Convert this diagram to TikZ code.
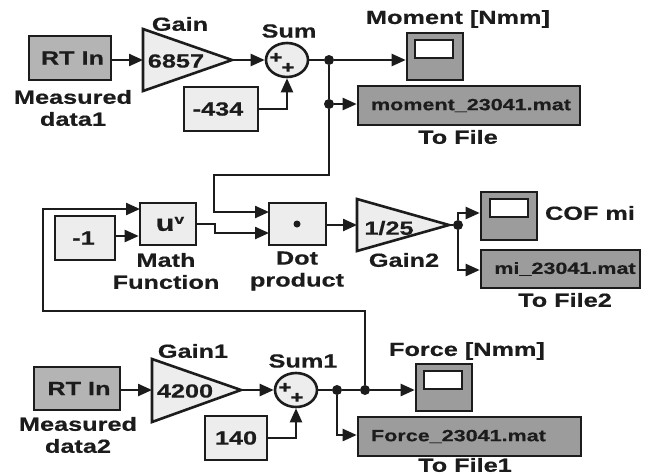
\documentclass[tikz,border=0pt]{standalone}
\usepackage{fontspec}
\setmainfont{Liberation Sans}[FakeStretch=1.33,BoldFeatures={FakeBold=0.5}]
\usetikzlibrary{arrows.meta,shapes.geometric}
\definecolor{rtgray}{HTML}{B4B4B4}
\definecolor{filegray}{HTML}{9C9C9C}
\definecolor{light}{HTML}{EDEDED}
\definecolor{ink}{HTML}{1C1C1C}
\tikzset{
  x=1pt,y=-1pt,
  every node/.style={font=\fontsize{19}{22}\selectfont\bfseries,text=ink},
  blk/.style={draw=ink,line width=2.6pt,inner sep=0pt},
  scr/.style={draw=ink,line width=2.6pt,fill=white,minimum width=38pt,minimum height=18pt,inner sep=0pt},
  tri/.style={draw=ink,line width=2.6pt,fill=light},
  sumshape/.style={ellipse,draw=ink,line width=2.6pt,fill=light,minimum width=42pt,minimum height=34pt,inner sep=0pt},
  wire/.style={draw=ink,line width=2.3pt,-{Triangle[length=14pt,width=12pt]}},
  plain/.style={draw=ink,line width=2.3pt},
  dotj/.style={circle,fill=ink,minimum size=10pt,inner sep=0pt},
  caption/.style={align=center,font=\fontsize{19}{22}\selectfont\bfseries,inner sep=0pt},
  plus/.style={font=\fontsize{17}{17}\selectfont\bfseries,inner sep=0pt}
}
\newcommand{\boxat}[7]{% name x1 y1 x2 y2 fill text
  \node[blk,minimum width={(#4-#2)*1pt},minimum height={(#5-#3)*1pt},fill=#6] (#1) at ({(#2+#4)/2},{(#3+#5)/2}) {#7};}
\newcommand{\ftxt}{\fontsize{16.2}{18}\selectfont}
\begin{document}
\begin{tikzpicture}
\useasboundingbox (0,0) rectangle (648,475);
\fill[white] (0,0) rectangle (648,475);
% top row
\boxat{rt1}{29}{36}{111}{80}{rtgray}{\hspace*{5pt}RT In}
\filldraw[tri] (143,29) -- (143,91) -- (232,60) -- cycle;
\node[inner sep=0pt] (g1) at (176,61) {6857};
\coordinate (g1in) at (143,60); \coordinate (g1out) at (232,60);
\node[sumshape] (s1) at (287,60) {};
\node[plus] (s1a) at (276,58) {+}; \node[plus] (s1b) at (288,68) {+};
\boxat{c1}{184}{87}{258}{131}{light}{\hspace*{-6pt}-434}
\boxat{sc1}{407}{33}{463}{80}{filegray}{}
\node[scr] (sc1s) at (434,49) {};
\boxat{f1}{358}{86}{580}{125}{filegray}{\hspace*{4pt}\ftxt moment\_23041.mat}
\node[dotj] (j1) at (329,60) {}; \node[dotj] (j2) at (329,104) {};
% middle row
\boxat{m}{140}{203}{196}{245}{light}{}
\node[inner sep=0pt,font=\fontsize{23}{23}\selectfont\bfseries] (mt) at (170,224) {u\raisebox{7pt}{\fontsize{13}{13}\selectfont v}};
\boxat{c2}{55}{216}{115}{260}{light}{\hspace*{-3pt}-1}
\boxat{dot}{269}{203}{326}{245}{light}{}
\node[circle,fill=ink,minimum size=7pt,inner sep=0pt] (dd) at (297,224) {};
\filldraw[tri] (357,199) -- (357,251) -- (449,225) -- cycle;
\node[inner sep=0pt] (g2) at (389,228) {1/25};
\coordinate (g2in) at (357,225); \coordinate (g2out) at (449,225);
\node[dotj] (j3) at (458,225) {};
\boxat{sc2}{481}{192}{537}{240}{filegray}{}
\node[scr] (sc2s) at (509,208) {};
\boxat{f2}{481}{250}{640}{288}{filegray}{\hspace*{9pt}\ftxt mi\_23041.mat}
% bottom row
\boxat{rt2}{34}{367}{120}{410}{rtgray}{\hspace*{4pt}RT In}
\filldraw[tri] (152,359) -- (152,422) -- (241,390) -- cycle;
\node[inner sep=0pt] (g3) at (185,391) {4200};
\coordinate (g3in) at (152,390); \coordinate (g3out) at (241,390);
\node[sumshape] (s2) at (296,390) {};
\node[plus] (s2a) at (285,388) {+}; \node[plus] (s2b) at (297,398) {+};
\boxat{c3}{205}{416}{267}{460}{light}{140}
\boxat{sc3}{416}{364}{472}{411}{filegray}{}
\node[scr] (sc3s) at (443,380) {};
\boxat{f3}{358}{417}{581}{456}{filegray}{\hspace*{-22pt}\ftxt Force\_23041.mat}
\node[dotj] (j4) at (337,390) {}; \node[dotj] (j5) at (365,390) {};
% captions
\node[caption] (t1) at (180,24) {Gain};
\node[caption] (t2) at (289,31) {Sum};
\node[caption] (t3) at (458,19) {Moment [Nmm]};
\node[caption] (t4) at (73,108) {Measured\\data1};
\node[caption] (t5) at (458,137) {To File};
\node[caption] (t6) at (166,271) {Math\\Function};
\node[caption] (t7) at (297,271) {Dot\\product};
\node[caption] (t8) at (404,260) {Gain2};
\node[caption] (t9) at (590,213) {COF mi};
\node[caption] (t10) at (565,300) {To File2};
\node[caption] (t11) at (193,351) {Gain1};
\node[caption] (t12) at (303,361) {Sum1};
\node[caption] (t13) at (467,351) {Force [Nmm]};
\node[caption] (t14) at (78,435) {Measured\\data2};
\node[caption] (t15) at (465,465) {To File1};
% wires
\draw[wire] (rt1.east |- g1in) -- (g1in);
\draw[wire] (g1out) -- (s1);
\draw[plain] (s1) -- (j1);
\draw[wire] (j1) -- (sc1.west |- j1);
\draw[wire] (j2) -- (f1.west |- j2);
\draw[plain] (j1) -- (j2);
\draw[wire] (c1.east) -| (s1.south);
\coordinate (tu1) at (329,175); \coordinate (tu2) at (214,175); \coordinate (di1) at (269,212);
\draw[wire] (j2) -- (tu1) -- (tu2) |- (di1);
\coordinate (lp1) at (43,209); \coordinate (lp2) at (43,311); \coordinate (lp3) at (365,311); \coordinate (mi1) at (140,209);
\draw[wire] (j5) -- (lp3) -- (lp2) -- (lp1) -- (mi1);
\draw[wire] (c2.east |- 0,236) -- (m.west |- 0,236);
\coordinate (mo) at (196,224); \coordinate (mo2) at (215,224); \coordinate (mo3) at (215,233); \coordinate (di2) at (269,233);
\draw[wire] (mo) -- (mo2) -- (mo3) -- (di2);
\draw[wire] (dot.east |- g2in) -- (g2in);
\draw[plain] (g2out) -- (j3);
\coordinate (up) at (458,213); \coordinate (dn) at (458,270);
\draw[wire] (j3) -- (up) -- (sc2.west |- up);
\draw[wire] (j3) -- (dn) -- (f2.west |- dn);
\draw[wire] (rt2.east |- g3in) -- (g3in);
\draw[wire] (g3out) -- (s2);
\draw[plain] (s2) -- (j4);
\draw[plain] (j4) -- (j5);
\draw[wire] (j5) -- (sc3.west |- j5);
\coordinate (dn2) at (337,435);
\draw[wire] (j4) -- (dn2) -- (f3.west |- dn2);
\draw[wire] (c3.east) -| (s2.south);
\end{tikzpicture}
\end{document}
